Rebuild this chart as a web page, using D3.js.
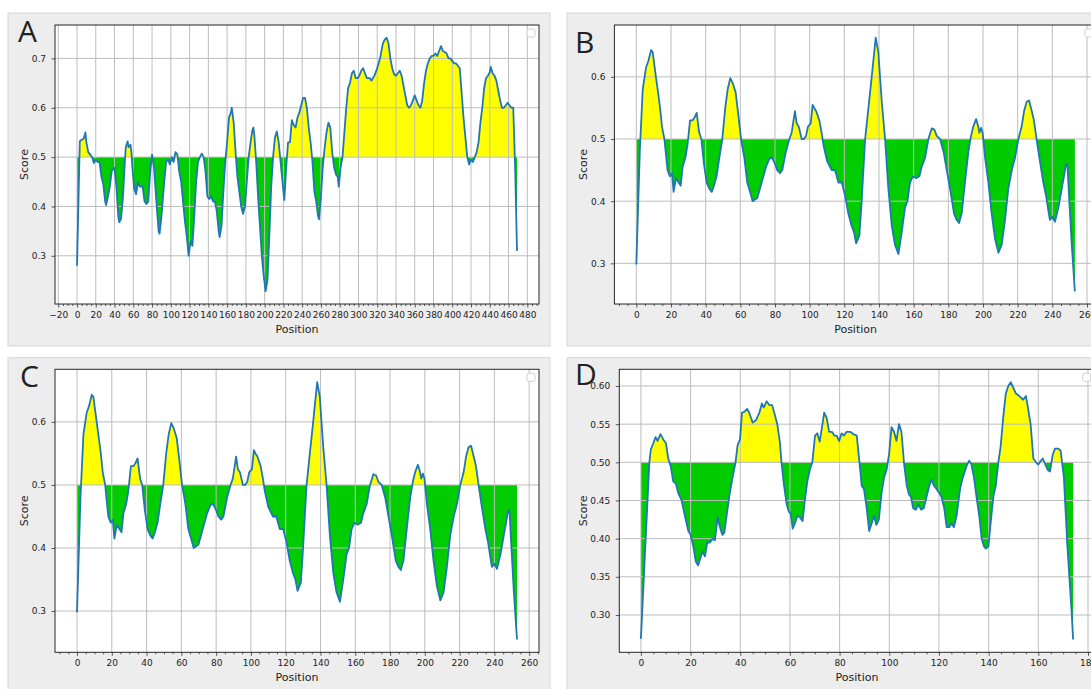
<!DOCTYPE html>
<html>
<head>
<meta charset="utf-8">
<script src="https://cdn.jsdelivr.net/npm/d3@7"></script>
<style>
  body { margin: 0; background: #fff; }
  svg { display: block; }
  text { font-family: "DejaVu Sans", sans-serif; fill: #222; }
</style>
</head>
<body>
<svg id="fig" width="1091" height="689"></svg>
<script>
// Score profiles: [position, score]
const seriesA = [
  [0,0.28],[3,0.532],[5,0.535],[7,0.537],[9,0.55],[10,0.53],[12,0.51],[14,0.505],[16,0.5],[18,0.488],
  [20,0.495],[22,0.49],[24,0.49],[26,0.46],[28,0.445],[30,0.41],[31,0.403],[33,0.42],[35,0.44],[37,0.472],
  [40,0.478],[42,0.44],[44,0.38],[45,0.368],[47,0.375],[49,0.42],[51,0.49],[52,0.52],[54,0.532],[55,0.52],
  [57,0.525],[58,0.51],[59,0.48],[61,0.435],[63,0.425],[65,0.45],[67,0.44],[70,0.44],[72,0.41],[74,0.405],
  [76,0.41],[78,0.47],[80,0.505],[82,0.48],[85,0.4],[87,0.35],[88,0.345],[90,0.38],[93,0.45],[95,0.49],
  [97,0.495],[99,0.485],[101,0.5],[103,0.49],[105,0.51],[107,0.505],[109,0.47],[111,0.45],[113,0.41],[115,0.37],
  [117,0.34],[119,0.3],[121,0.33],[123,0.32],[125,0.38],[127,0.45],[129,0.49],[131,0.5],[133,0.507],[135,0.5],
  [137,0.47],[139,0.42],[141,0.415],[143,0.42],[145,0.41],[147,0.41],[149,0.39],[151,0.35],[152,0.338],[154,0.36],
  [156,0.43],[158,0.49],[160,0.53],[162,0.58],[164,0.59],[165,0.6],[167,0.57],[169,0.51],[171,0.46],[173,0.43],
  [175,0.4],[177,0.385],[179,0.4],[181,0.45],[183,0.5],[185,0.53],[187,0.555],[188,0.56],[189,0.545],[191,0.49],
  [193,0.42],[195,0.36],[197,0.3],[199,0.26],[201,0.228],[203,0.25],[205,0.34],[207,0.44],[209,0.5],[211,0.54],
  [213,0.552],[215,0.53],[217,0.49],[219,0.45],[221,0.413],[223,0.48],[225,0.53],[227,0.53],[229,0.575],[231,0.565],
  [233,0.56],[235,0.58],[237,0.59],[239,0.605],[241,0.62],[243,0.62],[245,0.6],[247,0.56],[249,0.53],[251,0.49],
  [253,0.43],[255,0.41],[257,0.38],[258,0.374],[260,0.42],[262,0.48],[264,0.52],[266,0.55],[268,0.57],[270,0.56],
  [272,0.51],[274,0.48],[276,0.465],[278,0.46],[279,0.44],[281,0.48],[283,0.5],[285,0.55],[287,0.6],[289,0.64],
  [291,0.65],[293,0.67],[295,0.675],[297,0.66],[299,0.66],[301,0.665],[303,0.675],[305,0.68],[307,0.67],[309,0.66],
  [312,0.66],[314,0.655],[317,0.665],[320,0.68],[323,0.7],[326,0.73],[328,0.738],[330,0.742],[332,0.73],[334,0.7],
  [336,0.68],[338,0.668],[340,0.665],[342,0.67],[344,0.675],[346,0.665],[348,0.645],[350,0.625],[352,0.605],[354,0.6],
  [356,0.605],[358,0.615],[360,0.625],[362,0.615],[364,0.605],[366,0.6],[368,0.615],[370,0.65],[372,0.675],[374,0.69],
  [376,0.7],[378,0.705],[380,0.705],[382,0.71],[384,0.705],[386,0.715],[388,0.725],[390,0.715],[392,0.713],[394,0.71],
  [396,0.7],[398,0.7],[400,0.695],[402,0.69],[404,0.69],[406,0.685],[408,0.68],[410,0.63],[412,0.58],[414,0.54],
  [416,0.5],[418,0.485],[420,0.495],[422,0.49],[424,0.5],[426,0.51],[428,0.53],[430,0.57],[432,0.6],[434,0.64],
  [436,0.66],[438,0.665],[440,0.672],[441,0.683],[443,0.67],[445,0.665],[447,0.655],[449,0.635],[451,0.615],[453,0.6],
  [455,0.6],[457,0.605],[459,0.61],[461,0.605],[463,0.6],[465,0.6],[467,0.48],[469,0.31]
];

// B and C show the same profile
const seriesBC = [
  [0,0.298],[2,0.48],[3.7,0.58],[5.6,0.615],[6.9,0.625],[8.5,0.643],[9.4,0.64],[11.3,0.6],[12.3,0.58],[13.7,0.55],
  [14.8,0.52],[16.2,0.5],[18,0.45],[19.4,0.44],[20.6,0.445],[21.5,0.415],[22.9,0.437],[24.4,0.43],[25.6,0.425],[26.7,0.455],
  [28.3,0.47],[29.5,0.49],[31,0.53],[32.5,0.53],[33.7,0.535],[34.8,0.542],[36.3,0.51],[37.5,0.5],[39,0.46],[40.6,0.43],
  [42.1,0.42],[43.5,0.415],[44.8,0.425],[46.3,0.44],[47.9,0.47],[49.6,0.5],[51.3,0.55],[52.7,0.58],[54.2,0.598],[55.6,0.59],
  [57.3,0.575],[58.8,0.54],[60.4,0.5],[62.3,0.47],[64,0.43],[65.6,0.415],[67.1,0.4],[68.7,0.403],[69.8,0.405],[71.3,0.42],
  [73.3,0.44],[74.8,0.455],[76.7,0.468],[78.3,0.47],[80,0.46],[81.3,0.45],[82.9,0.445],[84.2,0.45],[86.3,0.48],[88.3,0.5],
  [89.6,0.51],[91.5,0.545],[92.5,0.525],[93.7,0.52],[95.4,0.5],[96.7,0.5],[97.9,0.505],[99,0.52],[100.6,0.525],[101.7,0.555],
  [102.6,0.55],[103.7,0.545],[105.6,0.53],[106.9,0.51],[108,0.49],[110,0.465],[112.7,0.45],[114.6,0.45],[116.6,0.43],[118.5,0.43],
  [120.4,0.41],[122.3,0.38],[124.2,0.36],[125.6,0.35],[126.8,0.332],[128.7,0.345],[130,0.4],[132,0.5],[133.9,0.55],[135.8,0.6],
  [138.1,0.663],[139.6,0.64],[141.6,0.56],[143.5,0.5],[145.4,0.42],[147.4,0.36],[149.2,0.33],[151.2,0.315],[153.1,0.35],[155,0.39],
  [156.4,0.4],[157.9,0.43],[159.5,0.44],[161.4,0.437],[163.3,0.44],[164.6,0.455],[166.6,0.47],[168.5,0.5],[170.4,0.517],[172,0.515],
  [173.3,0.505],[175.2,0.5],[177.2,0.48],[179.1,0.45],[181,0.42],[183.3,0.38],[184.8,0.37],[186.2,0.365],[187.7,0.38],[189.6,0.43],
  [191.6,0.48],[193.1,0.505],[194.4,0.52],[196,0.532],[197.3,0.52],[197.9,0.51],[198.9,0.518],[199.8,0.51],[201.2,0.47],[203.1,0.43],
  [205,0.38],[206.9,0.34],[208.9,0.317],[210.8,0.33],[212.7,0.37],[214.6,0.42],[216.6,0.45],[218.5,0.47],[220.4,0.5],[222.3,0.52],
  [223.7,0.545],[225.2,0.56],[226.6,0.562],[228.1,0.545],[229.4,0.53],[230.9,0.5],[232.8,0.465],[234.8,0.43],[236.3,0.41],[237.7,0.385],
  [238.6,0.37],[240,0.375],[241.5,0.367],[243.5,0.39],[245.4,0.42],[246.7,0.44],[247.9,0.46],[248.7,0.458],[249.8,0.4],[251.2,0.33],
  [253,0.255]
];

const seriesD = [
  [0,0.269],[3.4,0.5],[4,0.517],[5,0.525],[5.9,0.533],[6.7,0.528],[7.9,0.537],[9,0.53],[10.1,0.525],[11,0.505],
  [12,0.495],[13,0.475],[14.1,0.472],[15,0.46],[16.4,0.45],[17.7,0.43],[19.1,0.41],[20,0.405],[21.1,0.39],[22.1,0.37],
  [23,0.365],[23.8,0.373],[24.8,0.383],[25.8,0.377],[26.7,0.395],[27.8,0.395],[28.9,0.4],[29.8,0.398],[30.9,0.428],[31.8,0.415],
  [32.8,0.405],[33.6,0.408],[34.5,0.43],[35.8,0.46],[36.9,0.48],[38.1,0.5],[38.9,0.522],[39.9,0.53],[40.7,0.565],[41.6,0.566],
  [42.8,0.57],[43.6,0.565],[45,0.552],[46.3,0.555],[47.7,0.565],[48.7,0.577],[49.5,0.572],[50.6,0.58],[51.7,0.575],[52.8,0.575],
  [53.7,0.565],[54.9,0.55],[56,0.525],[56.6,0.5],[57.6,0.47],[58.7,0.445],[59.6,0.435],[60.3,0.433],[61.1,0.413],[62,0.42],
  [63,0.43],[64,0.428],[65.1,0.423],[66,0.45],[67,0.475],[68,0.49],[69,0.5],[70.1,0.535],[71,0.538],[72,0.527],
  [73,0.548],[73.8,0.565],[74.8,0.558],[75.8,0.54],[76.9,0.54],[77.9,0.535],[78.8,0.535],[79.8,0.528],[80.8,0.538],[81.7,0.535],
  [82.8,0.54],[84.2,0.54],[85.5,0.537],[86.9,0.535],[88,0.5],[88.9,0.469],[89.8,0.465],[90.9,0.44],[91.9,0.41],[92.9,0.42],
  [93.8,0.43],[94.8,0.418],[95.8,0.425],[96.9,0.46],[97.9,0.48],[98.9,0.49],[99.9,0.51],[100.9,0.546],[101.9,0.54],[102.9,0.528],
  [103.9,0.55],[104.9,0.54],[105.9,0.5],[107,0.47],[107.9,0.458],[108.7,0.455],[109.6,0.44],[110.7,0.438],[111.7,0.445],[112.8,0.438],
  [113.9,0.44],[115,0.455],[116,0.468],[117,0.478],[117.9,0.47],[119,0.465],[120.1,0.46],[121,0.455],[122.1,0.44],[123.1,0.415],
  [124.1,0.415],[125.1,0.42],[126,0.415],[127.1,0.43],[128.5,0.465],[129.5,0.479],[131.1,0.495],[132.1,0.502],[133,0.498],[134.1,0.48],
  [135.1,0.455],[136.2,0.43],[137.2,0.4],[138.1,0.39],[138.9,0.387],[139.9,0.39],[140.8,0.42],[141.9,0.455],[142.9,0.47],[143.9,0.5],
  [144.8,0.52],[145.9,0.56],[146.9,0.59],[147.9,0.6],[148.9,0.605],[149.9,0.598],[151,0.59],[151.9,0.588],[152.9,0.585],[153.9,0.582],
  [155,0.587],[155.9,0.57],[156.9,0.55],[158,0.505],[159.1,0.5],[160,0.497],[161,0.502],[161.8,0.505],[162.7,0.498],[163.8,0.49],
  [164.7,0.488],[165.8,0.51],[166.7,0.518],[168.1,0.518],[169,0.515],[170.3,0.48],[171.7,0.39],[173.4,0.305],[174,0.268]
];

const xTicksA = [-20,0,20,40,60,80,100,120,140,160,180,200,220,240,260,280,300,320,340,360,380,400,420,440,460,480];
const xTicksBC = [0,20,40,60,80,100,120,140,160,180,200,220,240,260];
const xTicksD = [0,20,40,60,80,100,120,140,160,180];
const yTicksA = [0.3,0.4,0.5,0.6,0.7];
const yTicksBC = [0.3,0.4,0.5,0.6];
const yTicksD = [0.30,0.35,0.40,0.45,0.50,0.55,0.60];
const threshold = 0.5;

const svg = d3.select("#fig");

const panels = [
  {letter: "A", data: seriesA, xTicks: xTicksA, yTicks: yTicksA, yFmt: ".1f",
   bg: [8, 13, 542, 333], frame: [55, 25, 484, 279], letterPos: [18, 42], scoreDx: 31},
  {letter: "B", data: seriesBC, xTicks: xTicksBC, yTicks: yTicksBC, yFmt: ".1f",
   bg: [567, 13, 540, 333], frame: [614.4, 25, 482.4, 279], letterPos: [575, 53], scoreDx: 31.7},
  {letter: "C", data: seriesBC, xTicks: xTicksBC, yTicks: yTicksBC, yFmt: ".1f",
   bg: [8, 357.7, 542, 340], frame: [55, 369.3, 484, 283], letterPos: [20, 387], scoreDx: 31},
  {letter: "D", data: seriesD, xTicks: xTicksD, yTicks: yTicksD, yFmt: ".2f",
   bg: [567, 357.7, 540, 340], frame: [619.3, 369.3, 475.4, 283], letterPos: [575, 385], scoreDx: 36.6}
];

// matplotlib-style 5% margins around the data
function padded([a, b]) {
  const m = (b - a) * 0.05;
  return [a - m, b + m];
}

panels.forEach((p, i) => {
  const [fx, fy, fw, fh] = p.frame;
  const g = svg.append("g");

  g.append("rect")
    .attr("x", p.bg[0]).attr("y", p.bg[1])
    .attr("width", p.bg[2]).attr("height", p.bg[3])
    .attr("fill", "#ededed")
    .attr("stroke", "#d6d6d6");

  const x = d3.scaleLinear()
    .domain(padded(d3.extent(p.data, d => d[0])))
    .range([fx, fx + fw]);
  const y = d3.scaleLinear()
    .domain(padded(d3.extent(p.data, d => d[1])))
    .range([fy + fh, fy]);

  g.append("rect")
    .attr("x", fx).attr("y", fy).attr("width", fw).attr("height", fh)
    .attr("fill", "#fff");

  const y0 = y(threshold);
  const defs = svg.append("defs");
  defs.append("clipPath").attr("id", "above" + i)
    .append("rect").attr("x", fx).attr("y", fy).attr("width", fw).attr("height", y0 - fy);
  defs.append("clipPath").attr("id", "below" + i)
    .append("rect").attr("x", fx).attr("y", y0).attr("width", fw).attr("height", fy + fh - y0);
  defs.append("clipPath").attr("id", "frame" + i)
    .append("rect").attr("x", fx).attr("y", fy).attr("width", fw).attr("height", fh);

  const area = d3.area()
    .x(d => x(d[0]))
    .y0(y0)
    .y1(d => y(d[1]));

  g.append("path")
    .datum(p.data)
    .attr("clip-path", `url(#above${i})`)
    .attr("fill", "#ffff00")
    .attr("d", area);

  g.append("path")
    .datum(p.data)
    .attr("clip-path", `url(#below${i})`)
    .attr("fill", "#00cc00")
    .attr("d", area);

  // grid on top of the fills, under the line
  const grid = g.append("g").attr("clip-path", `url(#frame${i})`)
    .attr("stroke", "#bdbdbd").attr("stroke-width", 1);
  grid.selectAll(".vx").data(p.xTicks).join("line")
    .attr("x1", d => x(d)).attr("x2", d => x(d))
    .attr("y1", fy).attr("y2", fy + fh);
  grid.selectAll(".hy").data(p.yTicks).join("line")
    .attr("x1", fx).attr("x2", fx + fw)
    .attr("y1", d => y(d)).attr("y2", d => y(d));

  g.append("path")
    .datum(p.data)
    .attr("clip-path", `url(#frame${i})`)
    .attr("fill", "none")
    .attr("stroke", "#1f77b4")
    .attr("stroke-width", 1.8)
    .attr("stroke-linejoin", "round")
    .attr("d", d3.line().x(d => x(d[0])).y(d => y(d[1])));

  // x axis, major and minor ticks
  const [xd0, xd1] = x.domain();
  const minor = d3.range(Math.ceil(xd0 / 5) * 5, xd1, 5).filter(v => v % 20 !== 0);

  const xAxis = g.append("g")
    .attr("transform", `translate(0,${fy + fh})`)
    .call(d3.axisBottom(x).tickValues(p.xTicks).tickSize(3.5).tickPadding(4).tickFormat(d3.format("d")));
  g.append("g")
    .attr("transform", `translate(0,${fy + fh})`)
    .call(d3.axisBottom(x).tickValues(minor).tickSize(2).tickFormat(""))
    .call(a => a.select(".domain").remove());

  const yAxis = g.append("g")
    .attr("transform", `translate(${fx},0)`)
    .call(d3.axisLeft(y).tickValues(p.yTicks).tickSize(3.5).tickPadding(5.5).tickFormat(d3.format(p.yFmt)));

  [xAxis, yAxis].forEach(a => {
    a.select(".domain").remove();
    a.selectAll("text").attr("font-size", 9).attr("font-family", "DejaVu Sans, sans-serif").attr("fill", "#222");
  });
  g.selectAll(".tick line").attr("stroke", "#333").attr("stroke-width", 0.8);

  // frame
  g.append("rect")
    .attr("x", fx).attr("y", fy).attr("width", fw).attr("height", fh)
    .attr("fill", "none")
    .attr("stroke", "#262626")
    .attr("stroke-width", 1);

  // empty legend box
  g.append("rect")
    .attr("x", fx + fw - 12).attr("y", fy + 4)
    .attr("width", 8).attr("height", 8)
    .attr("rx", 2)
    .attr("fill", "#fff")
    .attr("stroke", "#d0d0d0");

  g.append("text")
    .attr("x", fx + fw / 2)
    .attr("y", fy + fh + 29)
    .attr("text-anchor", "middle")
    .attr("font-size", 11)
    .text("Position");

  g.append("text")
    .attr("transform", `translate(${fx - p.scoreDx},${fy + fh / 2}) rotate(-90)`)
    .attr("dy", "0.35em")
    .attr("text-anchor", "middle")
    .attr("font-size", 11)
    .text("Score");

  g.append("text")
    .attr("x", p.letterPos[0])
    .attr("y", p.letterPos[1])
    .style("font-family", "'Open Sans', sans-serif")
    .attr("font-size", 30)
    .attr("fill", "#000")
    .text(p.letter);
});
</script>
</body>
</html>
